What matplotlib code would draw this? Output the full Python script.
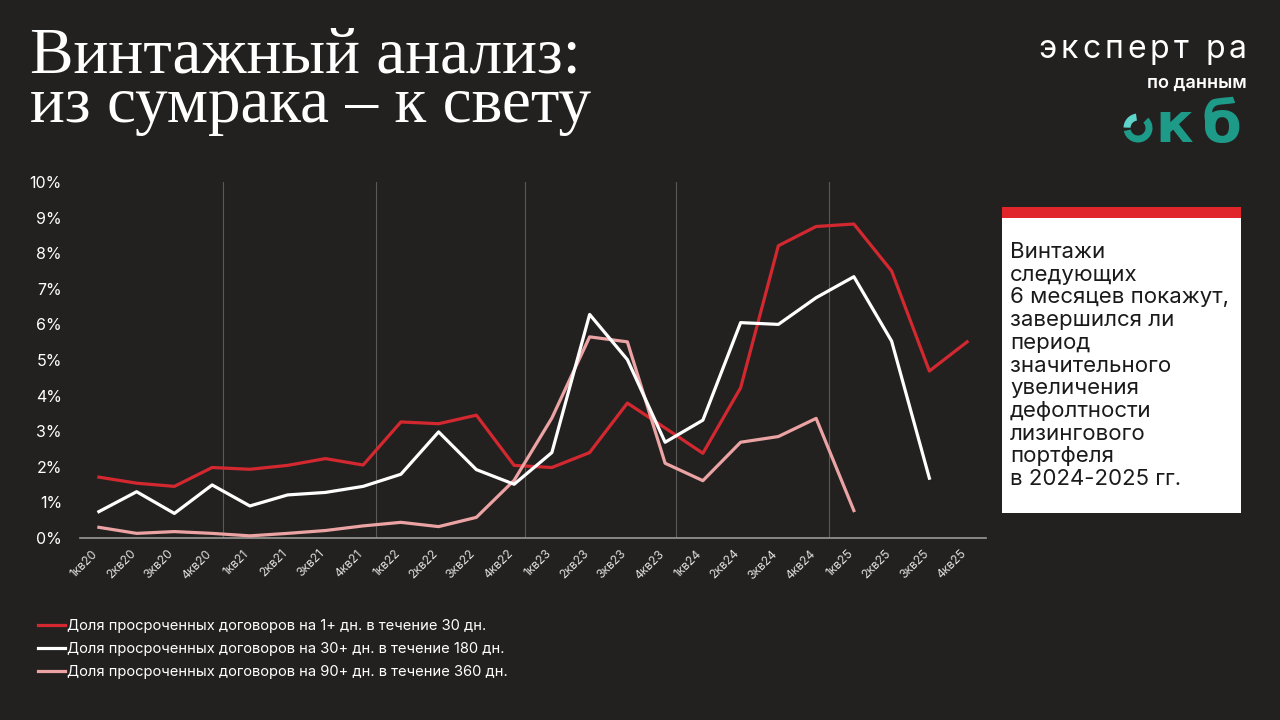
import matplotlib
matplotlib.use("Agg")
import matplotlib.pyplot as plt
from matplotlib.patches import Rectangle, Wedge
import matplotlib.transforms as mtransforms

plt.rcParams['font.family'] = ['Inter', 'DejaVu Sans']

# ---------------- data ----------------
quarters = ["1кв20", "2кв20", "3кв20", "4кв20",
            "1кв21", "2кв21", "3кв21", "4кв21",
            "1кв22", "2кв22", "3кв22", "4кв22",
            "1кв23", "2кв23", "3кв23", "4кв23",
            "1кв24", "2кв24", "3кв24", "4кв24",
            "1кв25", "2кв25", "3кв25", "4кв25"]

series_1_30 = [1.71, 1.54, 1.45, 1.98, 1.93, 2.04, 2.23, 2.05,
               3.26, 3.21, 3.45, 2.04, 1.98, 2.40, 3.79, 3.09,
               2.38, 4.22, 8.21, 8.75, 8.82, 7.50, 4.69, 5.51]
series_30_180 = [0.74, 1.30, 0.69, 1.49, 0.90, 1.21, 1.28, 1.45,
                 1.79, 2.98, 1.92, 1.51, 2.40, 6.28, 5.01, 2.69,
                 3.31, 6.05, 6.00, 6.75, 7.34, 5.53, 1.68]
series_90_360 = [0.30, 0.13, 0.18, 0.13, 0.06, 0.13, 0.21, 0.34,
                 0.44, 0.32, 0.58, 1.62, 3.37, 5.65, 5.51, 2.10,
                 1.61, 2.69, 2.85, 3.36, 0.77]

legend_labels = ["Доля просроченных договоров на 1+ дн. в течение 30 дн.",
                 "Доля просроченных договоров на 30+ дн. в течение 180 дн.",
                 "Доля просроченных договоров на 90+ дн. в течение 360 дн."]
y_ticks = [0, 1, 2, 3, 4, 5, 6, 7, 8, 9, 10]
y_tick_labels = [f"{v}%" for v in y_ticks]
year_dividers = [3.3, 7.33, 11.3, 15.3, 19.35]

title_text = "Винтажный анализ:\nиз сумрака – к свету"
brand_text = "эксперт ра"
source_text = "по данным"
note_text = ("Винтажи\nследующих\n6 месяцев покажут,\nзавершился ли\nпериод\n"
             "значительного\nувеличения\nдефолтности\nлизингового\nпортфеля\n"
             "в 2024-2025 гг.")

# ---------------- style ----------------
BG = "#232120"
RED = "#d3282f"
WHITE = "#ffffff"
PINK = "#eca3a4"
TEAL = "#1d9a88"
TEAL_L = "#5fd4ca"

fig = plt.figure(figsize=(12.8, 7.2), dpi=100, facecolor=BG)
renderer = fig.canvas.get_renderer()

# background / decoration axes in pixel coordinates (y downwards)
bg = fig.add_axes([0, 0, 1, 1], zorder=0)
bg.set_xlim(0, 1280)
bg.set_ylim(720, 0)
bg.axis('off')
bg.set_facecolor(BG)

# title (anchored on the baseline of its last line)
bg.text(30, 122, title_text, color=WHITE, fontsize=47,
        family=['Liberation Serif', 'DejaVu Serif'], va='baseline', ha='left',
        linespacing=0.79)

# logo: tracked "эксперт ра"
def tracked(text, x_right, y, size, tracking, **kw):
    xpos = x_right
    for ch in reversed(text):
        t = bg.text(xpos, y, ch, fontsize=size, ha='right', va='baseline', **kw)
        w = t.get_window_extent(renderer).width
        xpos -= w + tracking

tracked(brand_text, 1247, 58, 23, 4.0, color=WHITE)
bg.text(1247, 88, source_text, color=WHITE, fontsize=13, ha='right', va='baseline',
        fontweight='semibold')
bg.add_patch(Wedge((1138, 128), 14.5, -45, 168, width=7, color=TEAL, lw=0))
bg.add_patch(Wedge((1138, 128), 14.5, 182, 262, width=7, color=TEAL_L, lw=0))
bg.text(1155, 142, "к", color=TEAL, fontsize=40, ha='left', va='baseline',
        fontweight='bold', family=['DejaVu Sans'])
bg.text(1241, 142, "б", color=TEAL, fontsize=41, ha='right', va='baseline',
        fontweight='bold', family=['DejaVu Sans'])

# note box
bg.add_patch(Rectangle((1002, 207), 239, 11, color="#e0252b", lw=0))
bg.add_patch(Rectangle((1002, 218), 239, 295, color=WHITE, lw=0))
bg.text(1010, 242, note_text, color="#1a1a1a", fontsize=16, ha='left', va='top',
        linespacing=1.17)

# main chart
ax = fig.add_axes([80 / 1280, (720 - 538) / 720, (986 - 80) / 1280, (538 - 182) / 720], zorder=1)
ax.set_facecolor('none')
x = list(range(len(quarters)))
for xv in year_dividers:
    ax.axvline(xv, color="#5a5857", lw=0.8, zorder=1)

l1, = ax.plot(x[:len(series_1_30)], series_1_30, color=RED, lw=2.3, zorder=3)
l2, = ax.plot(x[:len(series_30_180)], series_30_180, color=WHITE, lw=2.3, zorder=4)
l3, = ax.plot(x[:len(series_90_360)], series_90_360, color=PINK, lw=2.3, zorder=3)

ax.set_xlim(-0.5, 23.5)
ax.set_ylim(0, 10)
ax.set_yticks(y_ticks)
ax.set_yticklabels(y_tick_labels)
ax.set_xticks(x)
ax.set_xticklabels(quarters, rotation=45, ha='right', rotation_mode='anchor')
ax.tick_params(axis='y', length=0, pad=13, labelsize=11.5, labelcolor=WHITE)
ax.tick_params(axis='x', length=0, pad=7, labelsize=8.7, labelcolor="#dddddd")
shift = mtransforms.ScaledTranslation(-0.07, 0, fig.dpi_scale_trans)
for lab in ax.get_xticklabels():
    lab.set_transform(lab.get_transform() + shift)
for s in ['top', 'right', 'left']:
    ax.spines[s].set_visible(False)
ax.spines['bottom'].set_color("#9a9898")
ax.spines['bottom'].set_linewidth(1.2)

fig.legend([l1, l2, l3], legend_labels, loc='upper left',
           bbox_to_anchor=(32 / 1280, 1 - 613 / 720), frameon=False,
           fontsize=10.6, handlelength=1.85, handletextpad=0.12, labelspacing=0.62,
           labelcolor=WHITE, borderaxespad=0)

fig.savefig("out.png", dpi=100, facecolor=BG)
